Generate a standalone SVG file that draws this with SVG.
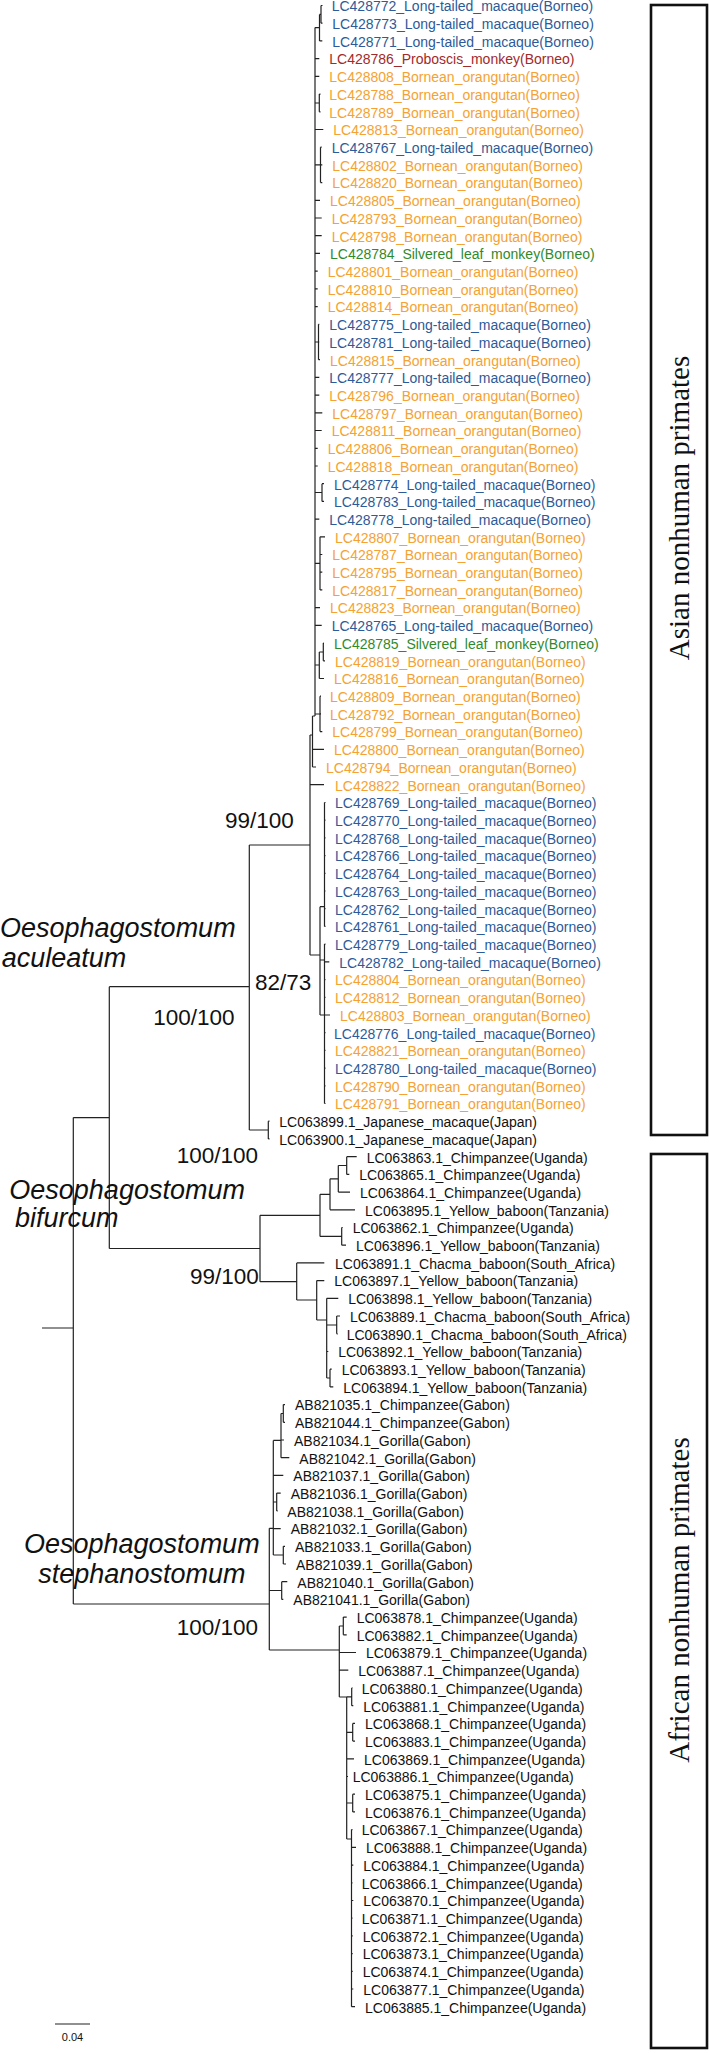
<svg xmlns="http://www.w3.org/2000/svg" width="709" height="2053" viewBox="0 0 709 2053">
<style>
text{font-family:"Liberation Sans",Arial,sans-serif;}
.t{font-size:14px;}
.b{fill:#2d5a98;}
.o{fill:#f5a233;}
.r{fill:#a12a2a;}
.g{fill:#2f8a2c;}
.k{fill:#111;}
.sup{font-size:22.5px;fill:#111;}
.clade{font-size:27px;font-style:italic;fill:#111;}
.region{font-family:"Liberation Serif","Times New Roman",serif;font-size:29px;fill:#111;}
.box{fill:none;stroke:#111;stroke-width:2.6;}
</style>
<rect width="709" height="2053" fill="#fff"/>
<g id="connectors" fill="none" stroke="#222" stroke-width="1.2">
<path d="M321,5.5H322.5M321,23.2H322.5M321,5.5V23.2M319.5,14.4H321M319.5,14.4V40.9M319.5,40.9H322.3M315,27.6H319.5
M315,27.6V716
M315,58.6H319.3M315,76.3H319.3
M315,103H319.3M319.3,94.1V111.8M319.3,94.1H320.5M319.3,111.8H320.5
M315,129.5H323.3
M315,164.9H320.5M320.5,147.2V182.6M320.5,147.2H321.7M320.5,164.9H322.3M320.5,182.6H322.3
M315,200.3H320M315,218H321.7M315,235.7H321.7M315,253.4H320M315,271.2H317.7M315,288.9H317.7M315,306.6H317.7
M315,342H318.5M318.5,324.3V359.7M318.5,324.3H319.3M318.5,342H319.3M318.5,359.7H320
M315,377.4H319.3M315,395.1H319.3M315,412.8H322.3M315,430.5H321.7M315,448.3H317.7M315,466H317.7
M315,492.5H322M322,483.7V501.4M322,483.7H324M322,501.4H324
M315,519.1H319.3
M315,563.3H320M320,536.8V589.9M320,536.8H325M320,554.5H322.3M320,572.2H322.3M320,589.9H322.3
M315,607.6H320M315,625.4H321.7
M315,665H319.3M319.3,652V678.5M319.3,652H323.3M323.3,643.1V660.8M323.3,643.1H324M323.3,660.8H325M319.3,678.5H324
M315,714H320M320,696.2V731.6M320,696.2H321M320,713.9H321M320,731.6H322.3
M312.5,716H315M312.5,716V767M312.5,749.3H324M312.5,767H316
M310,735H312.5M310,735V955M310,784.7H324
M310,955H320M320,906.7V1015
M320,906.7H324.5M324.5,802.5V926.4
M324.5,802.5H325.5M324.5,820.2H325.5M324.5,837.9H325.5M324.5,855.6H325.5M324.5,873.3H325.5M324.5,891H325.5M324.5,908.7H325.5M324.5,926.4H325.5
M320,960H324.5M324.5,944.1V1103.5
M324.5,944.1H325.5M324.5,961.8H329.3M324.5,979.6H325.5M324.5,997.3H325.5M324.5,1032.7H325.5M324.5,1050.4H325.5M324.5,1068.1H325.5M324.5,1085.8H325.5M324.5,1103.5H325.5
M320,1015H330
M249.3,845H310M249.3,845V1130M249.3,1130H268.3
M268.3,1121.2V1138.9M268.3,1121.2H269.5M268.3,1138.9H269.5
M109.3,986.7H249.3M109.3,986.7V1248.5M109.3,1248.5H260
M73.3,1117.6H109.3M73.3,1117.6V1604M73.3,1604H269.3
M42,1328H73.3
M260,1215.3V1281.7M260,1215.3H320M260,1281.7H296.7
M320,1194.3V1236.4M320,1194.3H330M320,1236.4H341.7
M330,1178.8V1209.8M330,1209.8H355M330,1178.8H338.3
M338.3,1165.5V1192.1M338.3,1192.1H350M338.3,1165.5H346.7
M346.7,1156.7V1174.4M346.7,1156.7H356.7M346.7,1174.4H349.3
M341.7,1227.5V1245.2M341.7,1227.5H342.7M341.7,1245.2H346
M296.7,1262.9V1300M296.7,1262.9H324.3M296.7,1300H316.7
M316.7,1280.6V1320M316.7,1280.6H324.3M316.7,1320H326.7
M326.7,1298.3V1378M326.7,1298.3H338.3M326.7,1325H336.7M326.7,1351.5H328.3M326.7,1378H330
M336.7,1316V1333.8M336.7,1316H340M336.7,1333.8H337.7
M330,1369.2V1386.9M330,1369.2H331.7M330,1386.9H333.3
M269.3,1528.3V1650M269.3,1528.3H273.3M269.3,1590.5H281.7M269.3,1650H339.3
M273.3,1440.4V1555
M273.3,1440.4H281M281,1413.5V1457.7M281,1413.5H283.3M281,1440H284M281,1457.7H289.3
M283.3,1404.6V1422.3M283.3,1404.6H285M283.3,1422.3H285
M273.3,1475.4H283.3
M273.3,1502H276.7M276.7,1493.1V1510.9M276.7,1493.1H280.7M276.7,1510.9H277.7
M273.3,1528.6H280.7
M273.3,1555H283.3M283.3,1546.3V1564M283.3,1546.3H285M283.3,1564H286
M281.7,1581.7V1599.4M281.7,1581.7H287.3M281.7,1599.4H283.3
M339.3,1626V1697
M339.3,1626H343.3M343.3,1617.1V1634.8M343.3,1617.1H346.7M343.3,1634.8H346.7
M339.3,1652.5H356M339.3,1670.2H348.3
M339.3,1697H346.7M346.7,1697V1839
M346.7,1696.8H351.7M351.7,1687.9V1705.7M351.7,1687.9H352.5M351.7,1705.7H353.3
M346.7,1732.3H352.7M352.7,1723.4V1741.1M352.7,1723.4H355M352.7,1741.1H355
M346.7,1758.8H354M346.7,1776.5H348
M346.7,1803H352.7M352.7,1794.2V1811.9M352.7,1794.2H355M352.7,1811.9H355
M346.7,1839H351.5M351.5,1829.6V2006.7
M351.5,1829.6H352.5M351.5,1847.3H356M351.5,1865.1H353.3M351.5,1882.8H352.5M351.5,1900.5H353.3M351.5,1918.2H352.5M351.5,1935.9H352.7M351.5,1953.6H352.7M351.5,1971.3H352.7M351.5,1989H353.3M351.5,2006.7H355"/>
<path d="M55,2024H90"/>
</g>
<g id="tips" class="t">
<g id="tip-LC428772"><text class="b" x="331.7" y="11.3">LC428772_Long-tailed_macaque(Borneo)</text></g>
<g id="tip-LC428773"><text class="b" x="332.3" y="29">LC428773_Long-tailed_macaque(Borneo)</text></g>
<g id="tip-LC428771"><text class="b" x="332.3" y="46.7">LC428771_Long-tailed_macaque(Borneo)</text></g>
<g id="tip-LC428786"><text class="r" x="329.3" y="64.4">LC428786_Proboscis_monkey(Borneo)</text></g>
<g id="tip-LC428808"><text class="o" x="329.3" y="82.1">LC428808_Bornean_orangutan(Borneo)</text></g>
<g id="tip-LC428788"><text class="o" x="329.3" y="99.9">LC428788_Bornean_orangutan(Borneo)</text></g>
<g id="tip-LC428789"><text class="o" x="329.3" y="117.6">LC428789_Bornean_orangutan(Borneo)</text></g>
<g id="tip-LC428813"><text class="o" x="333.3" y="135.3">LC428813_Bornean_orangutan(Borneo)</text></g>
<g id="tip-LC428767"><text class="b" x="331.7" y="153">LC428767_Long-tailed_macaque(Borneo)</text></g>
<g id="tip-LC428802"><text class="o" x="332.3" y="170.7">LC428802_Bornean_orangutan(Borneo)</text></g>
<g id="tip-LC428820"><text class="o" x="332.3" y="188.4">LC428820_Bornean_orangutan(Borneo)</text></g>
<g id="tip-LC428805"><text class="o" x="330" y="206.1">LC428805_Bornean_orangutan(Borneo)</text></g>
<g id="tip-LC428793"><text class="o" x="331.7" y="223.8">LC428793_Bornean_orangutan(Borneo)</text></g>
<g id="tip-LC428798"><text class="o" x="331.7" y="241.5">LC428798_Bornean_orangutan(Borneo)</text></g>
<g id="tip-LC428784"><text class="g" x="330" y="259.2">LC428784_Silvered_leaf_monkey(Borneo)</text></g>
<g id="tip-LC428801"><text class="o" x="327.7" y="277">LC428801_Bornean_orangutan(Borneo)</text></g>
<g id="tip-LC428810"><text class="o" x="327.7" y="294.7">LC428810_Bornean_orangutan(Borneo)</text></g>
<g id="tip-LC428814"><text class="o" x="327.7" y="312.4">LC428814_Bornean_orangutan(Borneo)</text></g>
<g id="tip-LC428775"><text class="b" x="329.3" y="330.1">LC428775_Long-tailed_macaque(Borneo)</text></g>
<g id="tip-LC428781"><text class="b" x="329.3" y="347.8">LC428781_Long-tailed_macaque(Borneo)</text></g>
<g id="tip-LC428815"><text class="o" x="330" y="365.5">LC428815_Bornean_orangutan(Borneo)</text></g>
<g id="tip-LC428777"><text class="b" x="329.3" y="383.2">LC428777_Long-tailed_macaque(Borneo)</text></g>
<g id="tip-LC428796"><text class="o" x="329.3" y="400.9">LC428796_Bornean_orangutan(Borneo)</text></g>
<g id="tip-LC428797"><text class="o" x="332.3" y="418.6">LC428797_Bornean_orangutan(Borneo)</text></g>
<g id="tip-LC428811"><text class="o" x="331.7" y="436.3">LC428811_Bornean_orangutan(Borneo)</text></g>
<g id="tip-LC428806"><text class="o" x="327.7" y="454.1">LC428806_Bornean_orangutan(Borneo)</text></g>
<g id="tip-LC428818"><text class="o" x="327.7" y="471.8">LC428818_Bornean_orangutan(Borneo)</text></g>
<g id="tip-LC428774"><text class="b" x="334" y="489.5">LC428774_Long-tailed_macaque(Borneo)</text></g>
<g id="tip-LC428783"><text class="b" x="334" y="507.2">LC428783_Long-tailed_macaque(Borneo)</text></g>
<g id="tip-LC428778"><text class="b" x="329.3" y="524.9">LC428778_Long-tailed_macaque(Borneo)</text></g>
<g id="tip-LC428807"><text class="o" x="335" y="542.6">LC428807_Bornean_orangutan(Borneo)</text></g>
<g id="tip-LC428787"><text class="o" x="332.3" y="560.3">LC428787_Bornean_orangutan(Borneo)</text></g>
<g id="tip-LC428795"><text class="o" x="332.3" y="578">LC428795_Bornean_orangutan(Borneo)</text></g>
<g id="tip-LC428817"><text class="o" x="332.3" y="595.7">LC428817_Bornean_orangutan(Borneo)</text></g>
<g id="tip-LC428823"><text class="o" x="330" y="613.4">LC428823_Bornean_orangutan(Borneo)</text></g>
<g id="tip-LC428765"><text class="b" x="331.7" y="631.2">LC428765_Long-tailed_macaque(Borneo)</text></g>
<g id="tip-LC428785"><text class="g" x="334" y="648.9">LC428785_Silvered_leaf_monkey(Borneo)</text></g>
<g id="tip-LC428819"><text class="o" x="335" y="666.6">LC428819_Bornean_orangutan(Borneo)</text></g>
<g id="tip-LC428816"><text class="o" x="334" y="684.3">LC428816_Bornean_orangutan(Borneo)</text></g>
<g id="tip-LC428809"><text class="o" x="330" y="702">LC428809_Bornean_orangutan(Borneo)</text></g>
<g id="tip-LC428792"><text class="o" x="330" y="719.7">LC428792_Bornean_orangutan(Borneo)</text></g>
<g id="tip-LC428799"><text class="o" x="332.3" y="737.4">LC428799_Bornean_orangutan(Borneo)</text></g>
<g id="tip-LC428800"><text class="o" x="334" y="755.1">LC428800_Bornean_orangutan(Borneo)</text></g>
<g id="tip-LC428794"><text class="o" x="326" y="772.8">LC428794_Bornean_orangutan(Borneo)</text></g>
<g id="tip-LC428822"><text class="o" x="335" y="790.5">LC428822_Bornean_orangutan(Borneo)</text></g>
<g id="tip-LC428769"><text class="b" x="335" y="808.3">LC428769_Long-tailed_macaque(Borneo)</text></g>
<g id="tip-LC428770"><text class="b" x="335" y="826">LC428770_Long-tailed_macaque(Borneo)</text></g>
<g id="tip-LC428768"><text class="b" x="335" y="843.7">LC428768_Long-tailed_macaque(Borneo)</text></g>
<g id="tip-LC428766"><text class="b" x="335" y="861.4">LC428766_Long-tailed_macaque(Borneo)</text></g>
<g id="tip-LC428764"><text class="b" x="335" y="879.1">LC428764_Long-tailed_macaque(Borneo)</text></g>
<g id="tip-LC428763"><text class="b" x="335" y="896.8">LC428763_Long-tailed_macaque(Borneo)</text></g>
<g id="tip-LC428762"><text class="b" x="335" y="914.5">LC428762_Long-tailed_macaque(Borneo)</text></g>
<g id="tip-LC428761"><text class="b" x="335" y="932.2">LC428761_Long-tailed_macaque(Borneo)</text></g>
<g id="tip-LC428779"><text class="b" x="335" y="949.9">LC428779_Long-tailed_macaque(Borneo)</text></g>
<g id="tip-LC428782"><text class="b" x="339.3" y="967.6">LC428782_Long-tailed_macaque(Borneo)</text></g>
<g id="tip-LC428804"><text class="o" x="335" y="985.4">LC428804_Bornean_orangutan(Borneo)</text></g>
<g id="tip-LC428812"><text class="o" x="335" y="1003.1">LC428812_Bornean_orangutan(Borneo)</text></g>
<g id="tip-LC428803"><text class="o" x="340" y="1020.8">LC428803_Bornean_orangutan(Borneo)</text></g>
<g id="tip-LC428776"><text class="b" x="334" y="1038.5">LC428776_Long-tailed_macaque(Borneo)</text></g>
<g id="tip-LC428821"><text class="o" x="335" y="1056.2">LC428821_Bornean_orangutan(Borneo)</text></g>
<g id="tip-LC428780"><text class="b" x="335" y="1073.9">LC428780_Long-tailed_macaque(Borneo)</text></g>
<g id="tip-LC428790"><text class="o" x="335" y="1091.6">LC428790_Bornean_orangutan(Borneo)</text></g>
<g id="tip-LC428791"><text class="o" x="335" y="1109.3">LC428791_Bornean_orangutan(Borneo)</text></g>
<g id="tip-LC063899"><text class="k" x="279.3" y="1127">LC063899.1_Japanese_macaque(Japan)</text></g>
<g id="tip-LC063900"><text class="k" x="279.3" y="1144.7">LC063900.1_Japanese_macaque(Japan)</text></g>
<g id="tip-LC063863"><text class="k" x="366.7" y="1162.5">LC063863.1_Chimpanzee(Uganda)</text></g>
<g id="tip-LC063865"><text class="k" x="359.3" y="1180.2">LC063865.1_Chimpanzee(Uganda)</text></g>
<g id="tip-LC063864"><text class="k" x="360" y="1197.9">LC063864.1_Chimpanzee(Uganda)</text></g>
<g id="tip-LC063895"><text class="k" x="365" y="1215.6">LC063895.1_Yellow_baboon(Tanzania)</text></g>
<g id="tip-LC063862"><text class="k" x="352.7" y="1233.3">LC063862.1_Chimpanzee(Uganda)</text></g>
<g id="tip-LC063896"><text class="k" x="356" y="1251">LC063896.1_Yellow_baboon(Tanzania)</text></g>
<g id="tip-LC063891"><text class="k" x="335" y="1268.7">LC063891.1_Chacma_baboon(South_Africa)</text></g>
<g id="tip-LC063897"><text class="k" x="334.3" y="1286.4">LC063897.1_Yellow_baboon(Tanzania)</text></g>
<g id="tip-LC063898"><text class="k" x="348.3" y="1304.1">LC063898.1_Yellow_baboon(Tanzania)</text></g>
<g id="tip-LC063889"><text class="k" x="350" y="1321.8">LC063889.1_Chacma_baboon(South_Africa)</text></g>
<g id="tip-LC063890"><text class="k" x="346.7" y="1339.6">LC063890.1_Chacma_baboon(South_Africa)</text></g>
<g id="tip-LC063892"><text class="k" x="338.3" y="1357.3">LC063892.1_Yellow_baboon(Tanzania)</text></g>
<g id="tip-LC063893"><text class="k" x="341.7" y="1375">LC063893.1_Yellow_baboon(Tanzania)</text></g>
<g id="tip-LC063894"><text class="k" x="343.3" y="1392.7">LC063894.1_Yellow_baboon(Tanzania)</text></g>
<g id="tip-AB821035"><text class="k" x="295" y="1410.4">AB821035.1_Chimpanzee(Gabon)</text></g>
<g id="tip-AB821044"><text class="k" x="295" y="1428.1">AB821044.1_Chimpanzee(Gabon)</text></g>
<g id="tip-AB821034"><text class="k" x="294" y="1445.8">AB821034.1_Gorilla(Gabon)</text></g>
<g id="tip-AB821042"><text class="k" x="299.3" y="1463.5">AB821042.1_Gorilla(Gabon)</text></g>
<g id="tip-AB821037"><text class="k" x="293.3" y="1481.2">AB821037.1_Gorilla(Gabon)</text></g>
<g id="tip-AB821036"><text class="k" x="290.7" y="1498.9">AB821036.1_Gorilla(Gabon)</text></g>
<g id="tip-AB821038"><text class="k" x="287.3" y="1516.7">AB821038.1_Gorilla(Gabon)</text></g>
<g id="tip-AB821032"><text class="k" x="290.7" y="1534.4">AB821032.1_Gorilla(Gabon)</text></g>
<g id="tip-AB821033"><text class="k" x="295" y="1552.1">AB821033.1_Gorilla(Gabon)</text></g>
<g id="tip-AB821039"><text class="k" x="296" y="1569.8">AB821039.1_Gorilla(Gabon)</text></g>
<g id="tip-AB821040"><text class="k" x="297.3" y="1587.5">AB821040.1_Gorilla(Gabon)</text></g>
<g id="tip-AB821041"><text class="k" x="293.3" y="1605.2">AB821041.1_Gorilla(Gabon)</text></g>
<g id="tip-LC063878"><text class="k" x="356.7" y="1622.9">LC063878.1_Chimpanzee(Uganda)</text></g>
<g id="tip-LC063882"><text class="k" x="356.7" y="1640.6">LC063882.1_Chimpanzee(Uganda)</text></g>
<g id="tip-LC063879"><text class="k" x="366" y="1658.3">LC063879.1_Chimpanzee(Uganda)</text></g>
<g id="tip-LC063887"><text class="k" x="358.3" y="1676">LC063887.1_Chimpanzee(Uganda)</text></g>
<g id="tip-LC063880"><text class="k" x="361.7" y="1693.8">LC063880.1_Chimpanzee(Uganda)</text></g>
<g id="tip-LC063881"><text class="k" x="363.3" y="1711.5">LC063881.1_Chimpanzee(Uganda)</text></g>
<g id="tip-LC063868"><text class="k" x="365" y="1729.2">LC063868.1_Chimpanzee(Uganda)</text></g>
<g id="tip-LC063883"><text class="k" x="365" y="1746.9">LC063883.1_Chimpanzee(Uganda)</text></g>
<g id="tip-LC063869"><text class="k" x="364" y="1764.6">LC063869.1_Chimpanzee(Uganda)</text></g>
<g id="tip-LC063886"><text class="k" x="352.7" y="1782.3">LC063886.1_Chimpanzee(Uganda)</text></g>
<g id="tip-LC063875"><text class="k" x="365" y="1800">LC063875.1_Chimpanzee(Uganda)</text></g>
<g id="tip-LC063876"><text class="k" x="365" y="1817.7">LC063876.1_Chimpanzee(Uganda)</text></g>
<g id="tip-LC063867"><text class="k" x="361.7" y="1835.4">LC063867.1_Chimpanzee(Uganda)</text></g>
<g id="tip-LC063888"><text class="k" x="366" y="1853.1">LC063888.1_Chimpanzee(Uganda)</text></g>
<g id="tip-LC063884"><text class="k" x="363.3" y="1870.9">LC063884.1_Chimpanzee(Uganda)</text></g>
<g id="tip-LC063866"><text class="k" x="361.7" y="1888.6">LC063866.1_Chimpanzee(Uganda)</text></g>
<g id="tip-LC063870"><text class="k" x="363.3" y="1906.3">LC063870.1_Chimpanzee(Uganda)</text></g>
<g id="tip-LC063871"><text class="k" x="361.7" y="1924">LC063871.1_Chimpanzee(Uganda)</text></g>
<g id="tip-LC063872"><text class="k" x="362.7" y="1941.7">LC063872.1_Chimpanzee(Uganda)</text></g>
<g id="tip-LC063873"><text class="k" x="362.7" y="1959.4">LC063873.1_Chimpanzee(Uganda)</text></g>
<g id="tip-LC063874"><text class="k" x="362.7" y="1977.1">LC063874.1_Chimpanzee(Uganda)</text></g>
<g id="tip-LC063877"><text class="k" x="363.3" y="1994.8">LC063877.1_Chimpanzee(Uganda)</text></g>
<g id="tip-LC063885"><text class="k" x="365" y="2012.5">LC063885.1_Chimpanzee(Uganda)</text></g>
</g>
<g id="support-values">
<text class="sup" x="225" y="828.3">99/100</text>
<text class="sup" x="255" y="990">82/73</text>
<text class="sup" x="153.3" y="1025">100/100</text>
<text class="sup" x="176.7" y="1162.7">100/100</text>
<text class="sup" x="190" y="1284">99/100</text>
<text class="sup" x="176.7" y="1635">100/100</text>
</g>
<g id="clade-aculeatum"><text class="clade" x="0" y="936.7">Oesophagostomum</text><text class="clade" x="1.7" y="966.7">aculeatum</text></g>
<g id="clade-bifurcum"><text class="clade" x="9.3" y="1199.3">Oesophagostomum</text><text class="clade" x="15" y="1226.7">bifurcum</text></g>
<g id="clade-stephanostomum"><text class="clade" x="24" y="1553.3">Oesophagostomum</text><text class="clade" x="38.3" y="1583.3">stephanostomum</text></g>
<g id="region-asian"><rect class="box" x="651" y="5" width="56" height="1130"/><text class="region" transform="translate(689,508) rotate(-90)" text-anchor="middle">Asian nonhuman primates</text></g>
<g id="region-african"><rect class="box" x="651" y="1154" width="56" height="894"/><text class="region" transform="translate(689,1600) rotate(-90)" text-anchor="middle">African nonhuman primates</text></g>
<g id="scale-bar"><text x="72.5" y="2041" font-size="11" text-anchor="middle" fill="#111">0.04</text></g>
</svg>
